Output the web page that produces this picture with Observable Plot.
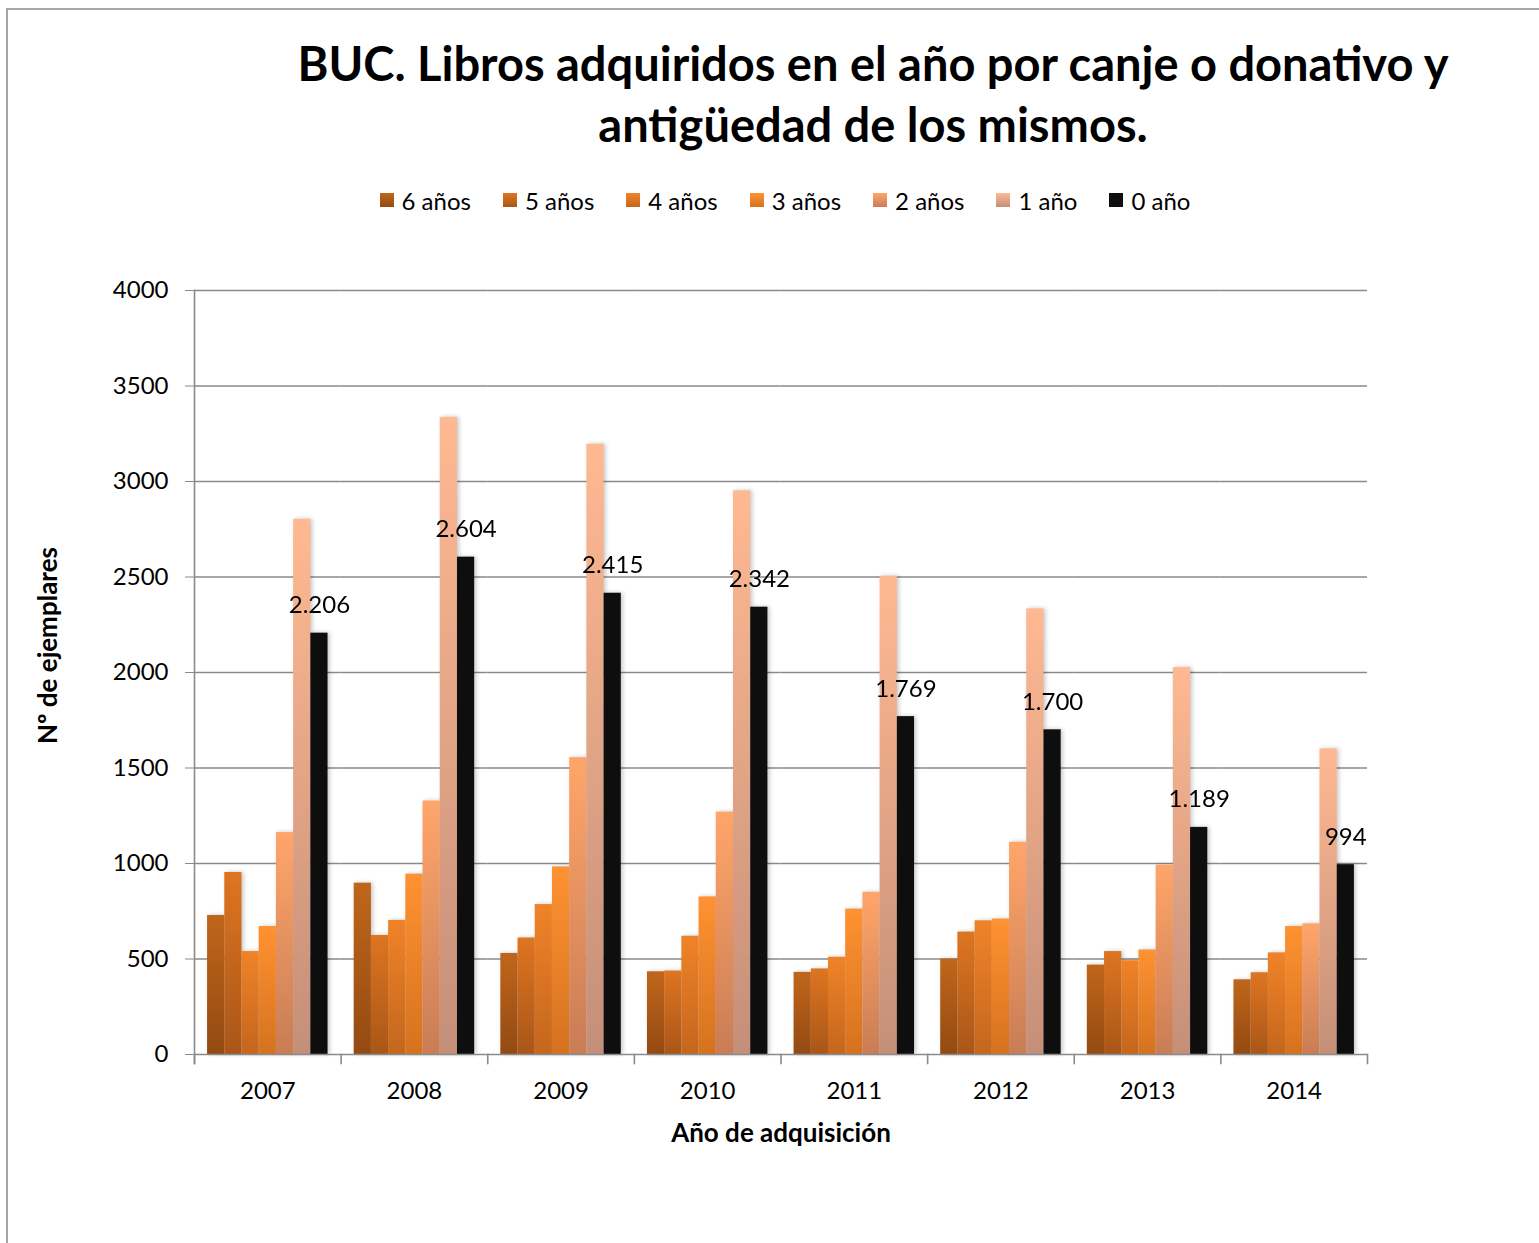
<!DOCTYPE html>
<html><head><meta charset="utf-8">
<script src="https://cdn.jsdelivr.net/npm/d3@7"></script>
<script src="https://cdn.jsdelivr.net/npm/@observablehq/plot@0.6"></script>
<style>
body{margin:0;background:#fff;font-family:Lato,"Open Sans",sans-serif;color:#000;}
#page{position:relative;width:1539px;height:1243px;overflow:hidden;background:#fff;}
#frame{position:absolute;left:6px;top:8px;width:1600px;height:1300px;border-left:2px solid #a6a6a6;border-top:2px solid #a6a6a6;}
#title{position:absolute;top:33px;left:173px;width:1400px;text-align:center;font-weight:700;font-size:47px;line-height:61px;}
#legend{position:absolute;top:185px;left:0;width:1570px;height:30px;display:flex;justify-content:center;align-items:center;font-size:24px;}
#legend .item{display:flex;align-items:center;margin:0 16px;}
#legend .sw{width:14px;height:14px;margin-right:8px;}
#chart{position:absolute;left:0;top:250px;}
#chart svg{overflow:visible;}
g[aria-label="bar"]{filter:drop-shadow(2px 0px 2px rgba(0,0,0,0.22));}
</style></head>
<body>
<svg width="0" height="0" style="position:absolute"><defs id="grads"></defs></svg>
<div id="page">
  <div id="frame"></div>
  <div id="title">BUC. Libros adquiridos en el año por canje o donativo y<br>antigüedad de los mismos.</div>
  <div id="legend"></div>
  <div id="chart"></div>
</div>
<script>
// ---- data ----
const years = ["2007","2008","2009","2010","2011","2012","2013","2014"];
const series = ["6 años","5 años","4 años","3 años","2 años","1 año","0 año"];
const v6 = [728, 897, 529, 433, 430, 499, 468, 391];
const v5 = [953, 623, 610, 437, 448, 641, 539, 428];
const v4 = [539, 702, 785, 619, 509, 700, 491, 532];
const v3 = [670, 944, 982, 825, 761, 709, 547, 670];
const v2 = [1162, 1327, 1554, 1269, 849, 1111, 991, 684];
const v1 = [2802, 3336, 3195, 2951, 2504, 2333, 2026, 1600];
const v0 = [2206, 2604, 2415, 2342, 1769, 1700, 1189, 994];
const yTicks = [0, 500, 1000, 1500, 2000, 2500, 3000, 3500, 4000];
const colorTop = ["#c0661b", "#de7521", "#f08328", "#ff9232", "#ffa56a", "#ffb992", "#0e0e0e"];
const colorBottom = ["#934a12", "#a95618", "#c4661d", "#d5721f", "#c97d55", "#c48f79", "#0e0e0e"];
const xTitle = "Año de adquisición";
const yTitle = "Nº de ejemplares";

const columns = [v6, v5, v4, v3, v2, v1, v0];
const data = [];
years.forEach((y, i) => series.forEach((s, j) => data.push({year: y, series: s, value: columns[j][i]})));

// gradients
const defs = d3.select("#grads");
series.forEach((s, j) => {
  const g = defs.append("linearGradient").attr("id", "g" + j).attr("x1", 0).attr("y1", 0).attr("x2", 0).attr("y2", 1);
  g.append("stop").attr("offset", "0%").attr("stop-color", colorTop[j]);
  g.append("stop").attr("offset", "100%").attr("stop-color", colorBottom[j]);
});

// legend
const leg = d3.select("#legend");
series.forEach((s, j) => {
  const it = leg.append("div").attr("class", "item");
  it.append("div").attr("class", "sw").style("background", `linear-gradient(${colorTop[j]}, ${colorBottom[j]})`);
  it.append("span").text(s);
});

const esLocale = d3.formatLocale({decimal: ",", thousands: ".", grouping: [3], currency: ["", " €"]});
const fmt = esLocale.format(",d");

const W = 1539, H = 993, mTop = 40, mBottom = 189, mLeft = 194, mRight = 172;
const plotH = H - mTop - mBottom;
const grey = "#8a8a8a";

const chart = Plot.plot({
  width: W, height: H,
  marginTop: mTop, marginBottom: mBottom, marginLeft: mLeft, marginRight: mRight,
  style: {fontFamily: "Lato, 'Open Sans', sans-serif", fontSize: "24px", color: "#000", background: "transparent"},
  fx: {domain: years, paddingInner: 0, paddingOuter: 0, round: false, axis: "bottom", tickSize: 0, tickPadding: 27, label: null},
  x: {domain: series, paddingInner: 0, paddingOuter: 0.76, round: false, axis: null},
  y: {domain: [0, 4000], axis: null},
  color: {domain: series, range: series.map((s, j) => `url(#g${j})`)},
  marks: [
    Plot.gridY(yTicks.slice(1), {stroke: grey, strokeOpacity: 1, strokeWidth: 1.4}),
    Plot.barY(data, {fx: "year", x: "series", y: "value", fill: "series"}),
    Plot.ruleY([0], {stroke: grey, strokeWidth: 1.6}),
    Plot.axisY({ticks: yTicks, tickSize: 9, tickPadding: 17, tickFormat: d3.format("d"), stroke: grey, label: null}),
    Plot.frame({anchor: "left", facet: "super", stroke: grey, strokeWidth: 1.6, insetBottom: -9}),
    Plot.frame({anchor: "left", stroke: grey, strokeWidth: 1.6, insetTop: plotH, insetBottom: -9}),
    Plot.frame({anchor: "right", facet: "super", stroke: grey, strokeWidth: 1.6, insetTop: plotH, insetBottom: -9}),
    Plot.text(data.filter(d => d.series === "0 año"), {fx: "year", x: "series", y: "value", text: d => fmt(d.value), lineAnchor: "bottom", dy: -20, fill: "#000"}),
    Plot.text([yTitle], {text: d => d, frameAnchor: "left", textAnchor: "middle", rotate: -90, dx: -146, dy: -27, facet: "super", fontWeight: "bold", fontSize: 26}),
    Plot.text([xTitle], {text: d => d, frameAnchor: "bottom", textAnchor: "middle", lineAnchor: "middle", dy: 79, facet: "super", fontWeight: "bold", fontSize: 26})
  ]
});
document.getElementById("chart").appendChild(chart);
</script>
</body></html>
